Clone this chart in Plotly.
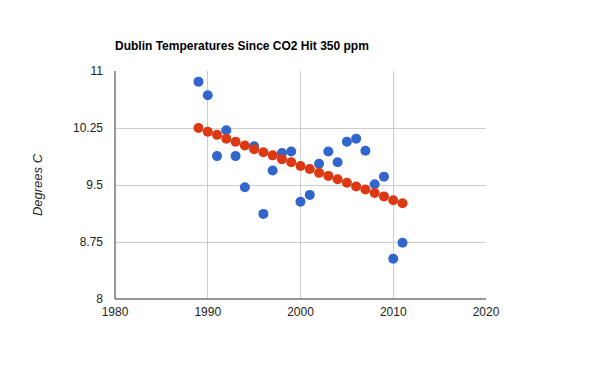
import plotly.graph_objects as go

years = list(range(1989, 2012))
observed = [10.86, 10.68, 9.88, 10.22, 9.88, 9.47, 10.01, 9.12, 9.69, 9.92, 9.94,
            9.28, 9.37, 9.78, 9.94, 9.80, 10.07, 10.11, 9.95, 9.51, 9.61, 8.53, 8.74]
trend = [10.25, 10.20, 10.16, 10.11, 10.07, 10.02, 9.97, 9.93, 9.89, 9.84, 9.80,
         9.75, 9.71, 9.66, 9.62, 9.575, 9.53, 9.48, 9.44, 9.395, 9.35, 9.30, 9.26]
x_ticks = [1980, 1990, 2000, 2010, 2020]
y_ticks = [8, 8.75, 9.5, 10.25, 11]
y_tick_labels = ["8", "8.75", "9.5", "10.25", "11"]

W, H = 600, 371
L, T = 107, 63
PW, PH = 371, 228

fig = go.Figure()
fig.add_trace(go.Scatter(x=years, y=observed, mode="markers",
                         marker=dict(color="#3366cc", size=10, line=dict(width=0)),
                         name="Observed"))
fig.add_trace(go.Scatter(x=years, y=trend, mode="markers",
                         marker=dict(color="#dc3912", size=10, line=dict(width=0)),
                         name="Trend"))

fig.update_layout(
    width=W, height=H,
    margin=dict(l=L, r=W - L - PW, t=T, b=H - T - PH, autoexpand=False),
    paper_bgcolor="white", plot_bgcolor="white",
    showlegend=False,
    font=dict(family="Liberation Sans, Arial, sans-serif", size=12, color="#222222"),
    title=dict(text="<b>Dublin Temperatures Since CO2 Hit 350 ppm</b>",
               x=L / W, xanchor="left", y=1 - 38 / H, yanchor="middle",
               font=dict(size=12, color="#000000")),
    xaxis=dict(range=[1980, 2020], tickvals=x_ticks, ticktext=[str(v) for v in x_ticks],
               showgrid=True, gridcolor="#cccccc", gridwidth=1, zeroline=False,
               showline=False, ticks="", ticklabelstandoff=4,
               tickfont=dict(size=12, color="#222222")),
    yaxis=dict(range=[8, 11], tickvals=y_ticks, ticktext=y_tick_labels,
               showgrid=True, gridcolor="#cccccc", gridwidth=1, zeroline=False,
               showline=False, ticks="", ticklabelstandoff=11,
               tickfont=dict(size=12, color="#222222"),
               title=dict(text="<i>Degrees C</i>", font=dict(size=13, color="#222222"),
                          standoff=27)),
)

# axis baselines (dark) on left and bottom
fig.add_shape(type="line", xref="paper", yref="paper", x0=0, x1=0, y0=0, y1=1,
              line=dict(color="#333333", width=1))
fig.add_shape(type="line", xref="paper", yref="paper", x0=0, x1=1, y0=0, y1=0,
              line=dict(color="#333333", width=1))

fig.write_html("out.html")
